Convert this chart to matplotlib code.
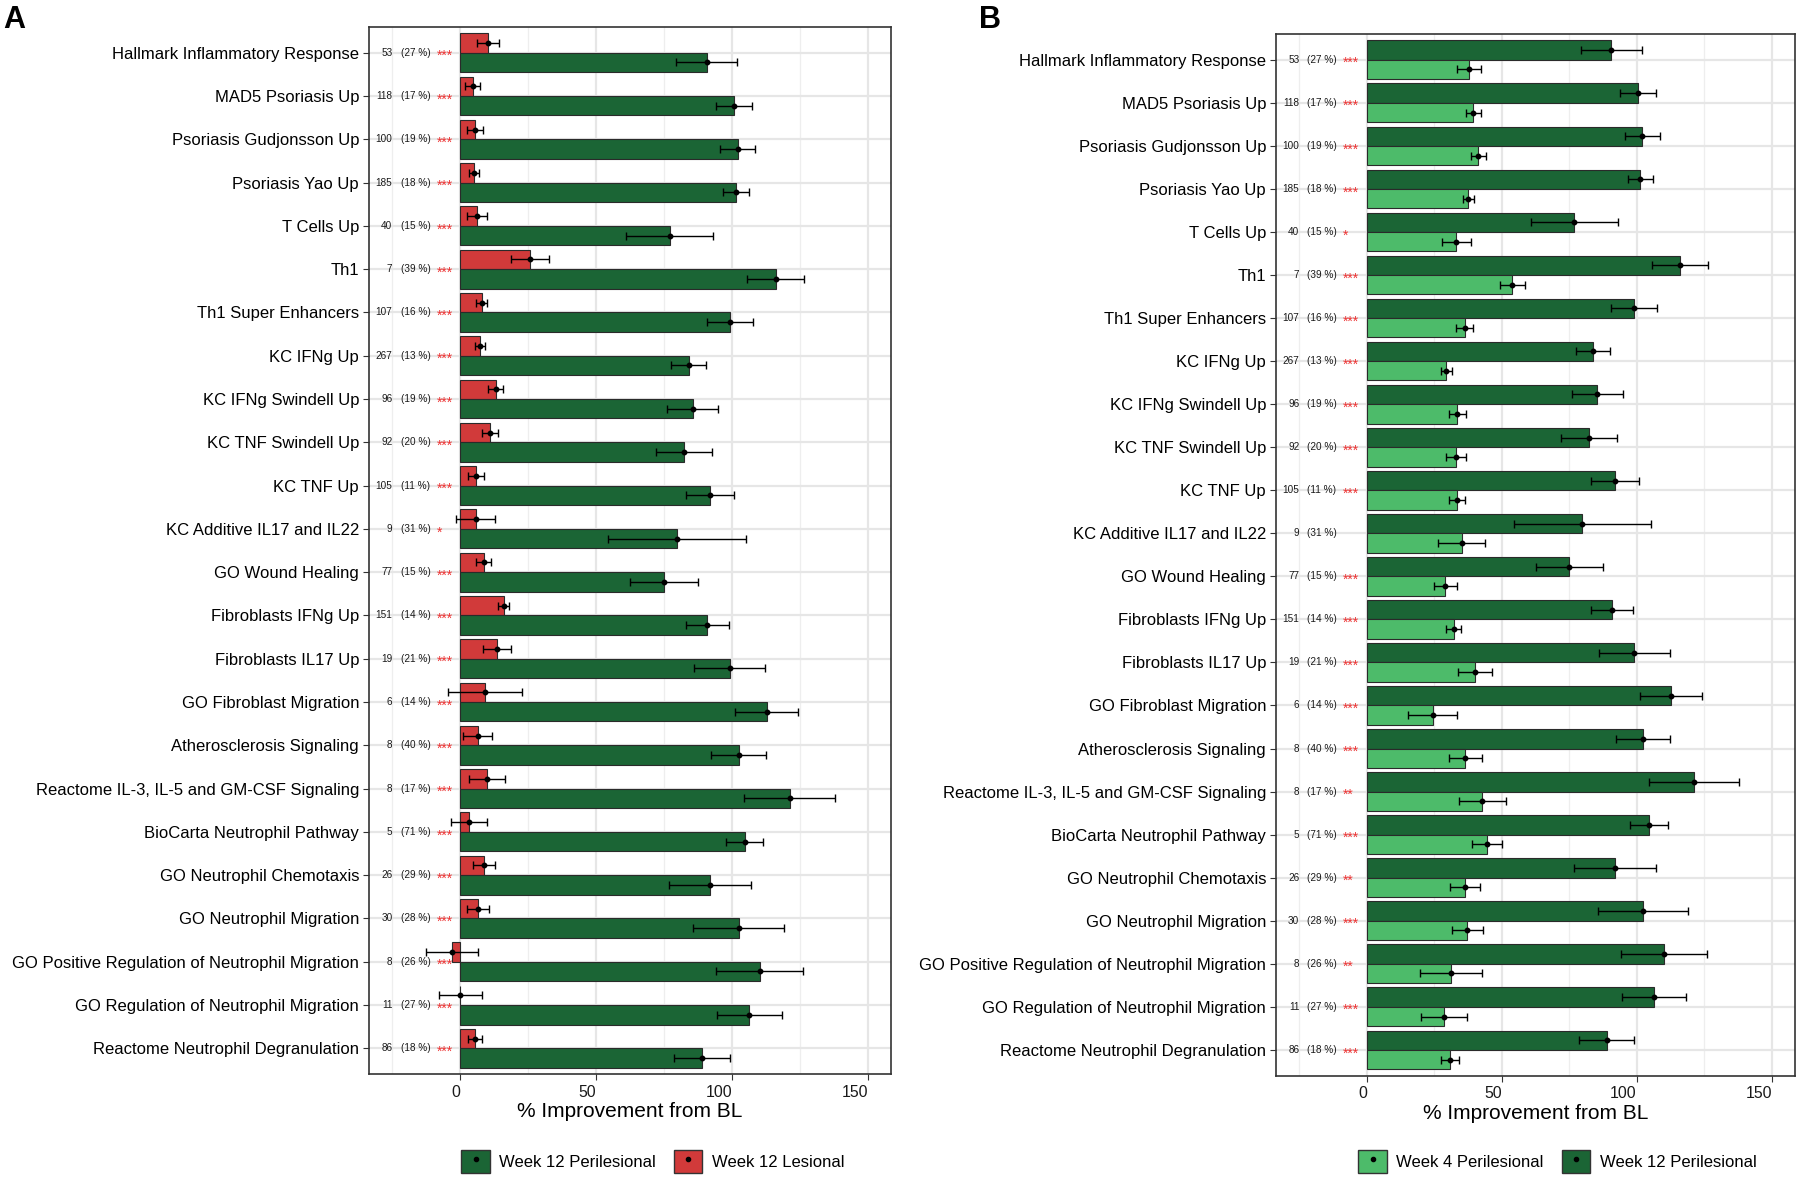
import matplotlib.pyplot as plt
from matplotlib.patches import Patch
from matplotlib.lines import Line2D
import numpy as np

plt.rcParams['font.family'] = ['Liberation Sans', 'DejaVu Sans']

# Pathways (top to bottom)
pathways = [
    'Hallmark Inflammatory Response', 'MAD5 Psoriasis Up', 'Psoriasis Gudjonsson Up',
    'Psoriasis Yao Up', 'T Cells Up', 'Th1', 'Th1 Super Enhancers', 'KC IFNg Up',
    'KC IFNg Swindell Up', 'KC TNF Swindell Up', 'KC TNF Up', 'KC Additive IL17 and IL22',
    'GO Wound Healing', 'Fibroblasts IFNg Up', 'Fibroblasts IL17 Up', 'GO Fibroblast Migration',
    'Atherosclerosis Signaling', 'Reactome IL-3, IL-5 and GM-CSF Signaling',
    'BioCarta Neutrophil Pathway', 'GO Neutrophil Chemotaxis', 'GO Neutrophil Migration',
    'GO Positive Regulation of Neutrophil Migration', 'GO Regulation of Neutrophil Migration',
    'Reactome Neutrophil Degranulation']
n_genes = [53, 118, 100, 185, 40, 7, 107, 267, 96, 92, 105, 9, 77, 151, 19, 6, 8, 8, 5, 26, 30, 8, 11, 86]
pct_genes = [27, 17, 19, 18, 15, 39, 16, 13, 19, 20, 11, 31, 15, 14, 21, 14, 40, 17, 71, 29, 28, 26, 27, 18]

# % improvement from baseline (mean, standard error)
wk12_peri = [90.6, 100.6, 102.0, 101.3, 76.9, 116.0, 99.1, 83.9, 85.4, 82.2, 91.9, 79.8,
             75.0, 90.8, 99.1, 112.7, 102.3, 121.1, 104.5, 91.8, 102.3, 110.1, 106.3, 88.8]
wk12_peri_se = [11.25, 6.65, 6.5, 4.75, 16.05, 10.5, 8.55, 6.3, 9.3, 10.4, 8.8, 25.35,
                12.5, 7.95, 13.1, 11.6, 10.15, 16.7, 6.9, 15.15, 16.8, 16.0, 11.8, 10.3]
wk12_les = [10.1, 4.5, 5.5, 5.1, 6.0, 25.6, 7.9, 7.2, 13.0, 10.9, 5.7, 5.7,
            8.5, 15.9, 13.5, 9.1, 6.3, 9.7, 3.2, 8.5, 6.4, -3.2, 0.0, 5.5]
wk12_les_se = [4.05, 2.65, 2.95, 1.8, 3.6, 6.85, 2.05, 1.85, 2.75, 2.85, 2.85, 7.15,
               2.9, 2.05, 5.1, 13.6, 5.45, 6.65, 6.55, 4.05, 4.05, 9.5, 7.95, 2.55]
wk4_peri = [37.8, 39.4, 41.3, 37.6, 33.2, 53.9, 36.2, 29.4, 33.4, 33.1, 33.4, 35.1,
            29.1, 32.2, 40.0, 24.4, 36.5, 42.8, 44.5, 36.2, 37.2, 31.1, 28.7, 30.9]
wk4_peri_se = [4.35, 2.75, 2.8, 2.05, 5.35, 4.6, 3.1, 2.05, 3.15, 3.6, 3.1, 8.65,
               4.25, 2.85, 6.3, 9.0, 6.2, 8.6, 5.6, 5.55, 5.65, 11.4, 8.55, 3.25]

stars_a = ['***'] * 11 + ['*'] + ['***'] * 12
stars_b = ['***', '***', '***', '***', '*', '***', '***', '***', '***', '***', '***', '',
           '***', '***', '***', '***', '***', '**', '***', '**', '***', '**', '***', '***']

DARK_GREEN = '#1b6535'
RED = '#d13a3a'
LIGHT_GREEN = '#4dbb6a'


def draw_panel(ax, top_vals, top_se, top_col, bot_vals, bot_se, bot_col, stars):
    y = np.arange(len(pathways))
    h = 0.45
    ax.barh(y - h / 2, top_vals, height=h, color=top_col, edgecolor='#2a2a2a', linewidth=0.8, zorder=3)
    ax.barh(y + h / 2, bot_vals, height=h, color=bot_col, edgecolor='#2a2a2a', linewidth=0.8, zorder=3)
    for vals, se, off in [(top_vals, top_se, -h / 2), (bot_vals, bot_se, h / 2)]:
        ax.errorbar(vals, y + off, xerr=se, fmt='o', color='black', ms=3.2,
                    elinewidth=1.0, capsize=3.2, capthick=1.0, zorder=4)

    for i in range(len(pathways)):
        ax.text(-25, i, str(n_genes[i]), ha='right', va='center', fontsize=7.2, color='#1a1a1a', zorder=5)
        ax.text(-22, i, '(%d %%)' % pct_genes[i], ha='left', va='center', fontsize=7.2, color='#1a1a1a', zorder=5)
        ax.text(-8.8, i + 0.08, stars[i], ha='left', va='center', fontsize=10, color='#ee3333', zorder=5)

    ax.set_yticks(y)
    ax.set_yticklabels(pathways, fontsize=12, color='black')
    ax.set_ylim(len(pathways) - 1 + 0.6, -0.6)
    ax.set_xlim(-33.7, 158.5)
    ax.set_xticks([0, 50, 100, 150])
    ax.set_xticks([-25, 25, 75, 125], minor=True)
    ax.tick_params(axis='x', which='major', labelsize=11.4, length=4, color='#333333', labelcolor='#1a1a1a')
    ax.tick_params(axis='y', which='major', length=4, color='#333333', pad=3)
    ax.tick_params(which='minor', length=0)
    # tick labels sit right-aligned on their ticks in the original
    plt.setp(ax.get_xticklabels(), ha='right')
    ax.grid(axis='x', which='major', color='#e6e6e6', linewidth=1.6, zorder=0)
    ax.grid(axis='x', which='minor', color='#eeeeee', linewidth=0.9, zorder=0)
    ax.grid(axis='y', which='major', color='#e6e6e6', linewidth=1.6, zorder=0)
    ax.set_axisbelow(True)
    for s in ax.spines.values():
        s.set_color('#333333')
        s.set_linewidth(1.2)
    ax.set_xlabel('% Improvement from BL', fontsize=15, labelpad=2)


fig = plt.figure(figsize=(18, 11.83), dpi=100)
ax_a = fig.add_axes([0.2049, 0.0919, 0.2903, 0.8855])
ax_b = fig.add_axes([0.7088, 0.0907, 0.2883, 0.8806])

draw_panel(ax_a, wk12_les, wk12_les_se, RED, wk12_peri, wk12_peri_se, DARK_GREEN, stars_a)
draw_panel(ax_b, wk12_peri, wk12_peri_se, DARK_GREEN, wk4_peri, wk4_peri_se, LIGHT_GREEN, stars_b)

dot = Line2D([], [], marker='o', color='black', ms=3, ls='none')
leg_kw = dict(loc='center', ncol=2, frameon=False, fontsize=12, handlelength=1.71,
              handleheight=1.71, handletextpad=0.56, columnspacing=1.08)
fig.legend([(Patch(facecolor=DARK_GREEN, edgecolor='#333333'), dot),
            (Patch(facecolor=RED, edgecolor='#333333'), dot)],
           ['Week 12 Perilesional', 'Week 12 Lesional'],
           bbox_to_anchor=(0.3627, 0.0182), **leg_kw)
fig.legend([(Patch(facecolor=LIGHT_GREEN, edgecolor='#333333'), dot),
            (Patch(facecolor=DARK_GREEN, edgecolor='#333333'), dot)],
           ['Week 4 Perilesional', 'Week 12 Perilesional'],
           bbox_to_anchor=(0.8652, 0.0182), **leg_kw)

fig.text(0.002, 0.996, 'A', fontsize=22, fontweight='bold', ha='left', va='top')
fig.text(0.544, 0.996, 'B', fontsize=22, fontweight='bold', ha='left', va='top')

fig.savefig('out.png', dpi=100)
